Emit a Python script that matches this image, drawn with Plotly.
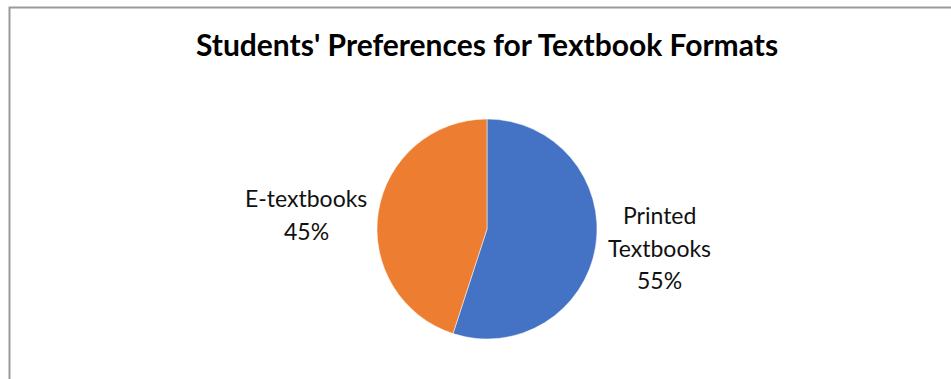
import plotly.graph_objects as go

# Survey result: share of students preferring each textbook format
categories = ["Printed Textbooks", "E-textbooks"]
label_lines = [["Printed", "Textbooks"], ["E-textbooks"]]
shares = [55, 45]
colors = ["#4472C4", "#ED7D31"]

W, H = 951, 379
FONT = "Lato"

fig = go.Figure(
    go.Pie(
        labels=categories,
        values=shares,
        sort=False,
        direction="clockwise",
        rotation=0,
        marker=dict(colors=colors, line=dict(color="white", width=0.5)),
        textinfo="none",
        hoverinfo="label+percent",
        showlegend=False,
        domain=dict(x=[(487 - 110) / W, (487 + 110) / W],
                    y=[(H - 229 - 110) / H, (H - 229 + 110) / H]),
    )
)

total = sum(shares)
# label anchor positions (pixel centre x, baseline of first line)
label_pos = {"Printed Textbooks": (659, 225), "E-textbooks": (306, 208)}
annotations = []
for cat, lines, v in zip(categories, label_lines, shares):
    cx, y0 = label_pos[cat]
    pct = f"{round(100 * v / total)}%"
    for i, txt in enumerate(lines + [pct]):
        yb = y0 + i * 32.5
        annotations.append(dict(
            x=cx / W, y=1 - (yb + 6) / H, xref="paper", yref="paper",
            xanchor="center", yanchor="bottom", showarrow=False,
            text=txt, font=dict(family=FONT, size=23, color="#111111"),
        ))

fig.update_layout(
    width=W, height=H,
    margin=dict(l=0, r=0, t=0, b=0),
    paper_bgcolor="white",
    plot_bgcolor="white",
    title=dict(text="<b>Students' Preferences for Textbook Formats</b>",
               x=487 / W, xanchor="center", y=1 - 45 / H, yanchor="middle",
               font=dict(family=FONT, size=30, color="#000000")),
    annotations=annotations,
    shapes=[dict(type="rect", xref="paper", yref="paper",
                 x0=9.5 / W, x1=1.05, y0=-0.05, y1=1 - 7.5 / H,
                 line=dict(color="#9a9a9a", width=2))],
)

fig.write_html("out.html")
